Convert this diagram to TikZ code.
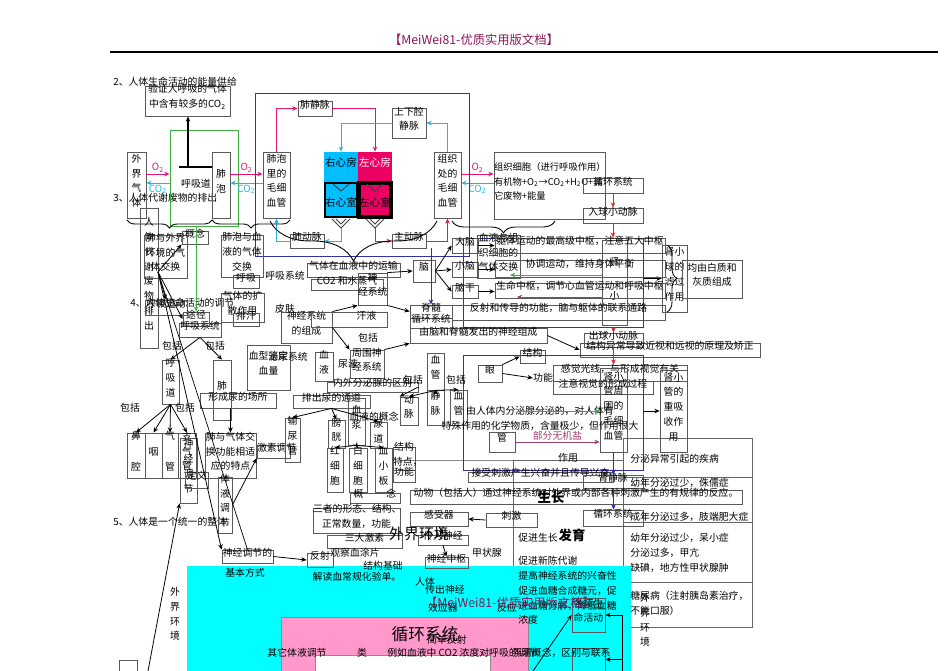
\documentclass[tikz,border=0pt]{standalone}
\usepackage{fontspec}
\setmainfont{Noto Sans CJK SC}
\usetikzlibrary{arrows.meta, fit, calc, decorations.pathreplacing}
\definecolor{HdPurple}{RGB}{140,20,90}
\definecolor{ArtPink}{RGB}{228,20,110}
\definecolor{VenCyan}{RGB}{40,180,225}
\definecolor{AtrCyan}{RGB}{0,190,255}
\definecolor{AtrPink}{RGB}{235,0,100}
\definecolor{BgCyan}{RGB}{0,255,255}
\definecolor{BgPink}{RGB}{255,153,204}
\definecolor{LnNavy}{RGB}{50,50,160}
\definecolor{LnGreen}{RGB}{60,175,60}
\definecolor{LnRed}{RGB}{225,35,35}
\definecolor{LnBlue}{RGB}{40,40,220}
\definecolor{LnMauve}{RGB}{160,60,110}
\newcommand\ft{\fontsize{5.6}{8.4}\selectfont}

\begin{document}
\begin{tikzpicture}[x=0.02cm, y=-0.02cm,
  bx/.style={draw=black!65, line width=.45pt, inner sep=0pt, align=center, font=\ft},
  txt/.style={inner sep=0pt, align=center, font=\ft},
  arr/.style={-{Stealth[length=3pt,width=2.6pt]}, line width=.45pt},
  brcm/.style={decorate, decoration={brace, mirror, amplitude=#1}, line width=.5pt},
  brc/.style={decorate, decoration={brace, amplitude=#1}, line width=.5pt},
  heart/.style={inner sep=0pt, font=\fontsize{6}{8}\selectfont},
  big/.style={inner sep=0pt, font=\fontsize{7.6}{9}\selectfont\bfseries},
  navybox/.style={draw=LnNavy, line width=.4pt, inner sep=0pt}
]
\useasboundingbox (0,0) rectangle (950,671);

% table lines (under the coloured block)
\draw[black!60, line width=.45pt] (623,438) rectangle (752,627);
\draw[black!60, line width=.45pt] (623,477) -- (752,477) (623,522) -- (752,522) (623,582) -- (752,582);
\draw[black!60, line width=.45pt] (513,460) rectangle (623,627);
\draw[black!45, line width=.45pt] (400,460) -- (513,460);

% coloured block at the bottom
\fill[BgCyan] (187,566) rectangle (631,671);
\filldraw[fill=BgPink, draw=black!45] (281,617) rectangle (528,671);
\filldraw[fill=white, draw=black!45] (315,655) rectangle (490,671);

% header
\node[txt, font=\fontsize{7}{8}\selectfont, text=HdPurple] (hdr) at (474,40) {【MeiWei81-优质实用版文档】};
\draw[line width=.7pt] (110,52) -- (938,52);

\node[txt, anchor=west] (sec2) at (113,82) {2、人体生命活动的能量供给};
\node[txt, anchor=west] (sec3) at (113,198) {3、人体代谢废物的排出};
\node[txt, anchor=west] (sec4) at (130,303) {4、人体生命活动的调节};
\node[txt, anchor=west] (sec5) at (113,522) {5、人体是一个统一的整体};

% gas exchange and circulation
\node[bx, fit={(145,86) (230,116)}] (verify) {验证人呼吸的气体\\中含有较多的CO\textsubscript{2}};
\node[draw=LnGreen, line width=.5pt, inner sep=0pt, fit={(170,130) (238,226)}] (airway) {};
\node[txt] (airtxt) at (196,184) {呼吸道};
\coordinate (tbar) at (188,167);
\draw[line width=.9pt] (179,167) -- (213,167);
\draw[arr, line width=.6pt] (tbar) -- (tbar |- verify.south);
\node[bx, fit={(127,152) (146,218)}] (outair) {外\\界\\气\\体};
\node[bx, fit={(212,152) (230,218)}] (alv) {肺\\泡};
\node[bx, fit={(263,152) (290,218)}] (alvcap) {肺泡\\里的\\毛细\\血管};
\node[bx, fit={(298,101) (332,116)}] (pulvein) {肺静脉};
\node[bx, fit={(392,108) (426,138)}] (venae) {上下腔\\静脉};
\node[heart, fill=AtrCyan, fit={(324,152) (358,182)}] (ratr) {右心房};
\node[heart, fill=AtrPink, text=white, fit={(358,152) (392,182)}] (latr) {左心房};
\node[heart, fill=AtrCyan, draw=black, line width=1.2pt, fit={(325,183) (357,217)}] (rven) {\\右心室};
\node[heart, fill=AtrPink, draw=black, line width=1.9pt, fit={(359,183) (391,217)}] (lven) {\\左心室};
\node[bx, fit={(434,152) (461,218)}] (tiscap) {组织\\处的\\毛细\\血管};
\node[bx, fit={(494,152) (605,219)}, align=left, font=\fontsize{5.3}{8.4}\selectfont] (tiscell)
  {组织细胞（进行呼吸作用）\\有机物+O\textsubscript{2}→CO\textsubscript{2}+H\textsubscript{2}O+其\\它废物+能量};
\node[bx, fit={(290,234) (324,248)}] (pulart) {肺动脉};
\node[bx, fit={(392,234) (426,248)}] (aorta) {主动脉};

% valves
\draw[black!75, line width=.5pt] (333,184) -- (341,191) -- (349,184) (367,184) -- (375,191) -- (383,184);
\draw[black!75, line width=.5pt] (332,219) -- (341,228) -- (350,219) (336,219) -- (341,224) -- (346,219)
  (366,219) -- (375,228) -- (384,219) (370,219) -- (375,224) -- (380,219);
\coordinate (rvalve) at (341,228);
\coordinate (lvalve) at (375,228);

\coordinate (oLev) at (0,174);
\coordinate (cLev) at (0,183);
\draw[arr, ArtPink] (outair.east |- oLev) -- (airway.west |- oLev) node[midway, above=.5pt, txt] {O\textsubscript{2}};
\draw[arr, VenCyan] (airway.west |- cLev) -- (outair.east |- cLev) node[midway, below=.8pt, txt] {CO\textsubscript{2}};
\draw[arr, ArtPink] (alv.east |- oLev) -- (alvcap.west |- oLev) node[midway, above=.5pt, txt] {O\textsubscript{2}};
\draw[arr, VenCyan] (alvcap.west |- cLev) -- (alv.east |- cLev) node[midway, below=.8pt, txt] {CO\textsubscript{2}};
\draw[arr, ArtPink] (tiscap.east |- oLev) -- (tiscell.west |- oLev) node[midway, above=.5pt, txt] {O\textsubscript{2}};
\draw[arr, VenCyan] (tiscell.west |- cLev) -- (tiscap.east |- cLev) node[midway, below=.8pt, txt] {CO\textsubscript{2}};

\draw[arr, ArtPink] (alvcap.north) |- (pulvein.west);
\draw[arr, ArtPink] (pulvein.east) -| (latr.north);
\draw[arr, VenCyan] (tiscap.north) |- (venae.east);
\draw[arr, VenCyan] (venae.west) -| (ratr.north);
\draw[arr, VenCyan] (rvalve) |- (pulart.east);
\draw[arr, VenCyan] (pulart.west) -| (alvcap.south);
\draw[arr, ArtPink] (lvalve) |- (aorta.west);
\draw[arr, ArtPink] (aorta.east) -| (tiscap.south);

\draw[LnNavy, line width=.4pt] (255,93) rectangle (469,256);

% braces
\draw[brcm=0.16cm] (127,220) -- (212,220);
\draw[brcm=0.16cm] (212,220) -- (290,220);
\draw[brcm=0.8cm] (270,221) -- (437,221);
\draw[brcm=0.24cm] (452,221) -- (555,221);

% kidney / nephron
\node[bx, fit={(583,178) (643,193)}] (circA) {循环系统};
\node[bx, fit={(583,208) (643,223)}] (affart) {入球小动脉};
\node[navybox, fit={(463,238) (643,327)}] (kidA) {};
\node[bx, fit={(602,240) (627,325)}] (neph) {肾\\[11pt]小};
\node[bx, fit={(662,245) (687,312)}] (glom) {肾小\\球的\\滤过\\作用};
\node[bx, fit={(682,260) (742,298)}] (wgmat) {均由白质和\\灰质组成};
\draw[brc=0.2cm] (667,245) -- (667,312);
\node[bx, fit={(584,333) (643,347)}] (effart) {出球小动脉};
\node[bx, fit={(580,343) (760,357)}] (myopia) {结构异常导致近视和远视的原理及矫正};
\node[bx, fit={(553,365) (687,381)}] (senselight) {感觉光线，与形成视觉有关};
\node[bx, fit={(553,381) (653,394)}] (visform) {注意视觉的形成过程};
\node[navybox, fit={(463,355) (643,470)}] (kidB) {};
\node[bx, fit={(600,368) (627,452)}] (tubcap) {肾小\\管周\\围的\\毛细\\血管};
\node[bx, fit={(660,370) (687,452)}] (tubule) {肾小\\管的\\重吸\\收作\\用};
\draw[arr, LnRed] (circA) -- (affart);
\draw[arr, LnRed] (affart) -- (affart |- kidA.north);
\draw[arr, LnRed] (effart.north |- kidA.south) -- (effart.north);
\draw[arr, LnRed] (effart.south) -- (effart.south |- senselight.north);
\draw[arr] (kidA.east |- glom) -- (glom.west);
\draw[arr] (kidB.east |- tubule) -- (tubule.west);

% brain and nerves
\node[bx, fit={(307,263) (400,277)}] (gastrans) {气体在血液中的运输};
\node[bx, fit={(311,279) (383,290)}] (co2) {CO2 和水蒸气};
\node[bx, fit={(358,273) (387,305)}] (nervsys) {神\\经系统};
\node[bx, fit={(413,260) (435,282)}] (brain) {脑};
\node[bx, fit={(452,238) (478,253)}] (cortex) {大脑};
\node[bx, fit={(452,262) (478,277)}] (cereb) {小脑};
\node[bx, fit={(452,285) (478,298)}] (bstem) {脑干};
\node[bx, fit={(477,235) (520,278)}] (bloodtis) {血液与组\\织细胞的\\气体交换};
\node[bx, fit={(495,238) (665,253)}] (fnA) {躯体运动的最高级中枢，注意五大中枢};
\node[bx, fit={(495,260) (665,277)}] (fnB) {协调运动，维持身体平衡};
\node[bx, fit={(495,283) (665,298)}] (fnC) {生命中枢，调节心血管运动和呼吸中枢};
\node[bx, fit={(452,305) (665,320)}] (fnD) {反射和传导的功能，脑与躯体的联系通路};
\node[bx, fit={(410,305) (452,318)}] (spinal) {脊髓};
\node[bx, fit={(410,318) (452,328)}] (circB) {循环系统};
\node[bx, fit={(410,328) (547,343)}] (pnervcomp) {由脑和脊髓发出的神经组成};
\coordinate (gTip) at (510,275);
\coordinate (mTip) at (517,297);
\draw[arr, LnGreen] (neph.west |- gTip) -- (gTip);
\draw[arr, LnMauve] (neph.west |- mTip) -- (mTip);
\draw[arr, LnNavy] (spinal.north |- aorta.south) -- (spinal.north);
\draw[arr] (brain.east) -- (cortex.west);
\draw[arr] (brain.east) -- (cereb.west);
\draw[arr] (brain.east) -- (bstem.west);
\draw[arr] (cortex.east) -- (fnA.west |- cortex);
\draw[arr] (cereb.east) -- (fnB.west |- cereb);
\draw[arr] (bstem.east) -- (fnC.west |- bstem);
\draw[arr] (nervsys.north east) -- (brain.west);
\draw[arr] (nervsys.south east) -- (spinal.west);
\draw[arr] (pnervcomp.east) -- (myopia.west);

% respiration and excretion, left
\node[bx, fit={(140,208) (158,348)}] (waste) {人\\体\\代\\谢\\废\\物\\排\\出};
\node[bx, fit={(144,235) (187,278)}] (lungext) {肺与外界\\环境的气\\体交换};
\node[bx, fit={(182,231) (208,244)}] (concA) {概念};
\node[bx, fit={(221,235) (263,277)}] (alvblood) {肺泡与血\\液的气体\\交换};
\node[bx, fit={(233,275) (259,288)}] (huxi) {呼吸};
\node[txt] (lbResp) at (285,276) {呼吸系统};
\node[bx, fit={(145,300) (187,315)}] (breath) {呼吸运动};
\node[bx, fit={(221,293) (264,322)}] (diffuse) {气体的扩\\散作用};
\node[bx, fit={(183,312) (209,326)}] (tujing) {途径};
\node[bx, fit={(179,323) (221,337)}] (ressys) {呼吸系统};
\node[bx, fit={(233,313) (259,326)}] (sweat) {排汗};
\node[txt] (lbSkin) at (285,309) {皮肤};
\node[bx, fit={(281,312) (332,343)}] (nervcomp) {神经系统\\的组成};
\node[bx, fit={(311,312) (387,327)}] (sweatliq) {\hspace{20pt}汗液};
\node[txt] (lbIncA) at (368,338) {包括};
\node[txt] (lbIncB) at (172,346) {包括};
\node[txt] (lbIncC) at (215,346) {包括};
\node[bx, fit={(162,360) (179,404)}] (airtube) {呼\\吸\\道};
\node[bx, fit={(213,360) (231,420)}] (lung) {肺};
\node[bx, fit={(247,345) (290,390)}] (btype) {血型鉴定\\血量};
\node[txt] (lbUrin) at (288,357) {泌尿系统};
\node[bx, fit={(315,352) (333,381)}] (blood) {血\\液};
\node[txt] (lbUrine) at (348,364) {尿液};
\node[bx, fit={(350,350) (384,378)}] (pnerv) {周围神\\经系统};
\node[bx, fit={(327,382) (418,392)}] (endoc) {内外分泌腺的区别};
\node[bx, fit={(200,393) (276,408)}] (urinesite) {形成尿的场所};
\node[bx, fit={(293,395) (370,408)}] (urinepath) {排出尿的通道};
\node[txt] (lbIncD) at (130,408) {包括};
\node[txt] (lbIncE) at (185,408) {包括};
\node[bx, fit={(127,433) (145,478)}] (nose) {鼻\\[9pt]腔};
\node[bx, fit={(145,433) (162,478)}] (pharynx) {咽};
\node[bx, fit={(162,433) (178,478)}] (trachea) {气\\[9pt]管};
\node[bx, fit={(178,433) (196,478)}] (bronchi) {支\\气\\管};
\node[bx, fit={(180,438) (197,503)}] (nervreg) {神\\经\\调\\节};
\node[bx, fit={(185,472) (208,488)}] (defn) {定义};
\node[bx, fit={(205,433) (256,478)}] (lungfit) {肺与气体交\\换功能相适\\应的特点};
\node[bx, fit={(218,477) (232,533)}] (humreg) {体\\液\\调\\节};
\node[bx, fit={(257,445) (290,458)}] (hormreg) {激素调节};
\node[bx, fit={(285,418) (300,462)}] (ureter) {输\\尿\\管};
\node[bx, fit={(328,420) (345,448)}] (bladder) {膀\\胱};
\node[bx, fit={(370,422) (387,448)}] (urethra) {尿\\道};
\node[bx, fit={(348,398) (365,445)}] (plasma) {血\\浆};
\node[txt] (lbBcon) at (374,417) {血液的概念};
\node[bx, fit={(327,448) (343,492)}] (rbc) {红\\细\\胞};
\node[bx, fit={(349,448) (367,492)}] (wbc) {白\\细\\胞};
\node[bx, fit={(375,448) (392,492)}] (plt) {血\\小\\板};
\node[bx, fit={(350,493) (400,503)}] (concB) {概\hspace{13pt}念};
\node[bx, fit={(313,508) (400,533)}] (threecell) {三者的形态、结构、\\正常数量，功能};
\node[bx, fit={(327,535) (402,548)}] (threehorm) {三大激素};
\node[bx, fit={(393,447) (415,470)}] (structfeat) {结构\\特点，};
\node[bx, fit={(393,470) (415,482)}] (func) {功能};
\node[bx, fit={(427,353) (444,390)}] (vessel) {血\\管};
\node[bx, fit={(400,397) (418,425)}] (artery) {动\\脉};
\node[bx, fit={(427,390) (444,425)}] (vein) {静\\脉};
\node[bx, fit={(450,390) (467,425)}] (capil) {血\\管};
\node[txt] (lbIncF) at (413,380) {包括};
\node[txt] (lbIncG) at (456,380) {包括};

% reflex basis
\node[bx, fit={(222,550) (273,563)}] (reflexbase) {神经调节的};
\node[txt] (lbBase) at (245,573) {基本方式};
\node[bx, fit={(307,553) (333,567)}] (reflex) {反射};
\node[txt] (lbSmear) at (355,553) {观察血涂片};
\node[txt] (lbBasis) at (383,566) {结构基础};
\node[txt] (lbReport) at (357,577) {解读血常规化验单。};
\draw[arr] (reflexbase.east) -- (reflex.west);

\coordinate (hub) at (158,272);
\coordinate (lowL) at (148,671);
\draw[arr, LnGreen] (tujing.north |- airway.south) -- (tujing.north);
\draw[arr] (hub) -- (concA.south west);
\draw[arr] (hub) -- (breath.north);
\draw[arr] (hub) -- (tujing.west);
\draw[arr] (hub) -- (reflexbase.north west);
\draw (hub) -- (reflexbase.north);
\draw[arr] (lowL) -- (nervreg.south west);
\draw[arr] (ressys.south) -- (airtube.north);
\draw[arr] (ressys.south) -- (lung.north);
\draw[arr] (airtube.south) -- (nose.north);
\draw[arr] (airtube.south) -- (pharynx.north);
\draw[arr] (airtube.south) -- (trachea.north);
\draw[arr] (airtube.south) -- (bronchi.north);
\draw[arr] (lungfit.north |- urinesite.south) -- (lungfit.north);
\draw[arr] (humreg.east) -- (hormreg.south west);
\draw[arr] (urinepath.south) -- (ureter.north);
\draw[arr] (urinepath.south) -- (bladder.north);
\draw[arr] (urinepath.south) -- (urethra.north);
\draw[arr] (plasma.south) -- (rbc.north);
\draw[arr] (plasma.south) -- (wbc.north);
\draw[arr] (plasma.south) -- (plt.north);
\draw[arr] (vessel.south) -- (artery.north);
\draw[arr] (vessel.south) -- (vein.north);
\draw[arr] (vessel.south) -- (capil.north);
\draw[arr] (nervcomp.north east) -- (nervsys.south west);
\draw[arr] (nervcomp.east) -- (pnerv.north west);
\draw[arr] (pnerv.north east) -- (pnervcomp.south west);
\draw[arr] (endoc.east) -- (artery.north west);

% eye, hormones, reflex arc
\node[bx, fit={(520,350) (545,363)}] (struct) {结构};
\node[bx, fit={(478,365) (502,382)}] (eye) {眼};
\node[txt] (lbFunc) at (543,378) {功能};
\draw[arr] (eye.north east) -- (struct.west);
\draw[arr] (eye.east) -- (lbFunc.west);
\node[txt] (hormdef) at (540,418) {由人体内分泌腺分泌的，对人体有\\特殊作用的化学物质，含量极少，但作用很大};
\node[bx, fit={(489,432) (515,452)}] (pipe) {管};
\draw[arr, LnMauve] (pipe.east) -- (tubcap.west |- pipe.east) node[midway, above=1pt, txt] {部分无机盐};
\coordinate (gStart) at (517,411);
\draw[arr, LnGreen] (gStart) -- (tubcap.west |- gStart);
\node[bx, fit={(468,472) (613,482)}] (recv) {接受刺激产生兴奋并且传导兴奋};
\node[bx, fit={(583,475) (643,488)}] (renvein) {肾静脉};
\node[bx, fit={(410,490) (742,504)}] (reflexdef) {动物（包括人）通过神经系统对外界或内部各种刺激产生的有规律的反应。};
\node[bx, fit={(486,513) (537,527)}] (stim) {刺激};
\node[bx, fit={(583,510) (643,526)}] (circC) {循环系统};
\node[bx, fit={(410,512) (468,526)}] (receptor) {感受器};
\node[bx, fit={(418,535) (468,545)}] (afnerve) {传入神经};
\node[bx, fit={(425,557) (468,568)}] (center) {神经中枢};
\draw[arr, LnBlue] (tubcap.south) -- (tubcap.south |- renvein.north);
\draw[arr, LnBlue] (tubcap.south |- renvein.south) -- (tubcap.south |- circC.north);
\draw[arr] (stim.west) -- (receptor.east);
\draw[arr] (receptor.south) -- (afnerve.north);
\draw[arr] (afnerve.south) -- (center.north);

\node[big] (growth) at (551,497) {生长};
\node[big] (devel) at (572,535) {发育};
\node[txt, font=\fontsize{8.5}{10}\selectfont] (outenvA) at (419,534) {外界环境};
\node[txt] (lbThy) at (487,553) {甲状腺};
\node[txt] (lbAct) at (568,458) {作用};
\node[txt, anchor=west] (eA) at (518,538) {促进生长};
\node[txt, anchor=west] (eB) at (518,561) {促进新陈代谢};
\node[txt, anchor=west] (eC) at (518,576) {提高神经系统的兴奋性};
\node[txt, anchor=west] (eD) at (518,591) {促进血糖合成糖元，促};
\node[txt, anchor=west] (eE) at (518,606) {进血糖分解，降低血糖};
\node[txt, anchor=west] (eF) at (518,620) {浓度};
\node[txt, anchor=west] (dA) at (630,459) {分泌异常引起的疾病};
\node[txt, anchor=west] (dB) at (630,483) {幼年分泌过少，侏儒症};
\node[txt, anchor=west] (dC) at (630,517) {成年分泌过多，肢端肥大症};
\node[txt, anchor=west] (dD) at (630,538) {幼年分泌过少，呆小症};
\node[txt, anchor=west] (dE) at (630,553) {分泌过多，甲亢};
\node[txt, anchor=west] (dF) at (630,568) {缺碘，地方性甲状腺肿};
\node[txt, anchor=west] (dG) at (630,596) {糖尿病（注射胰岛素治疗，};
\node[txt, anchor=west] (dH) at (630,611) {不能口服）};

% whole body
\node[txt] (outenvB) at (175,614) {外\\界\\环\\境};
\node[bx, fit={(119,660) (137,671)}] (cornerbox) {};
\node[txt] (lbBody) at (425,582) {人体};
\node[txt] (lbEff) at (445,590) {传出神经};
\node[txt] (lbEffr) at (443,608) {效应器};
\node[txt] (lbResp2) at (507,608) {反应};
\node[bx, fit={(572,598) (605,632)}] (lifeact) {各项生\\命活动};
\node[bx, fit={(572,648) (605,671)}] (lifebox) {};
\node[txt] (outenvC) at (645,620) {外\\界\\环\\境};
\coordinate (envR) at (622,671);
\coordinate (pinkTR) at (533,671);
\draw[arr] (envR) |- (lifeact.east);
\draw[arr] (envR) |- (lifebox.east);
\draw[arr] (pinkTR) -- (lifeact.west);
\node[txt, font=\fontsize{9.5}{11}\selectfont] (circBig) at (425,634) {循环系统};
\node[txt] (lbSimple) at (447,640) {简单反射};
\node[txt] (lbOther) at (297,653) {其它体液调节};
\node[txt] (lbKind) at (362,653) {类};
\node[txt, anchor=west] (lbCO2) at (387,653) {例如血液中 CO2 浓度对呼吸的调节};
\node[txt, anchor=east] (lbDiff) at (611,653) {弄清概念，区别与联系};
\node[txt, font=\fontsize{7}{8}\selectfont, text=HdPurple] (wmark) at (510,603) {【MeiWei81-优质实用版文档】};
\end{tikzpicture}
\end{document}
